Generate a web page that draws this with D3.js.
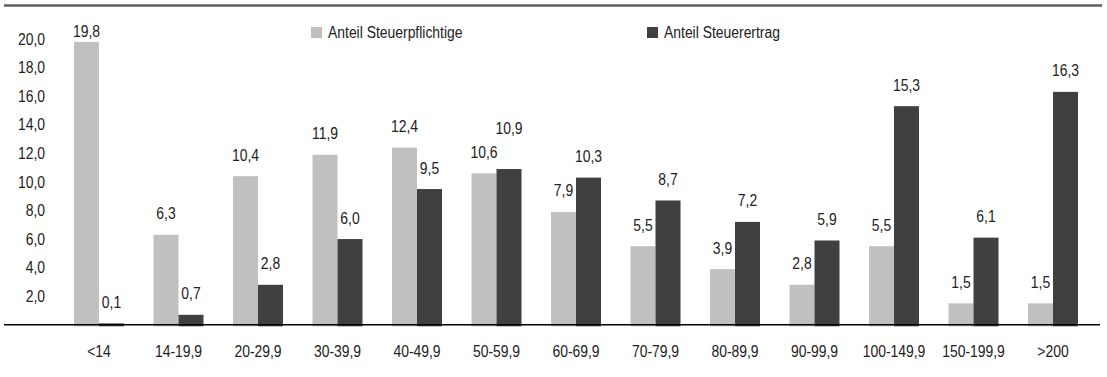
<!DOCTYPE html>
<html lang="de">
<head>
<meta charset="utf-8">
<script src="https://cdn.jsdelivr.net/npm/d3@7"></script>
<style>
  html, body { margin: 0; padding: 0; background: #fff; }
  svg { display: block; }
  text { font-family: "Liberation Sans Narrow", "Liberation Sans", "Arial", sans-serif; fill: #222; font-size: 16px; }
</style>
</head>
<body>
<svg id="chart" width="1107" height="377"></svg>
<script>
// Einkommensklassen (in Tausend)
const categories = ["<14", "14-19,9", "20-29,9", "30-39,9", "40-49,9", "50-59,9", "60-69,9",
                    "70-79,9", "80-89,9", "90-99,9", "100-149,9", "150-199,9", ">200"];
const seriesNames = ["Anteil Steuerpflichtige", "Anteil Steuerertrag"];
// Anteile in Prozent
const steuerpflichtige = [19.8, 6.3, 10.4, 11.9, 12.4, 10.6, 7.9, 5.5, 3.9, 2.8, 5.5, 1.5, 1.5];
const steuerertrag     = [0.1, 0.7, 2.8, 6.0, 9.5, 10.9, 10.3, 8.7, 7.2, 5.9, 15.3, 6.1, 16.3];
const yTicks = [2, 4, 6, 8, 10, 12, 14, 16, 18, 20];

const colors = ["#c0c0c0", "#404040"];
const fmt = v => d3.format(".1f")(v).replace(".", ",");
const narrow = 0.87; // horizontale Stauchung für eine schmale Schrift

const svg = d3.select("#chart");

const x = d3.scaleBand()
  .domain(categories)
  .range([59.25, 1092.75])
  .paddingInner(0.371)
  .paddingOuter(0.1855);

const xs = d3.scaleBand()
  .domain(seriesNames)
  .range([0, x.bandwidth()]);

const y = d3.scaleLinear().domain([0, 20]).range([324.8, 39]);

// Obere Trennlinie
svg.append("line")
  .attr("x1", 4).attr("x2", 1102)
  .attr("y1", 5.5).attr("y2", 5.5)
  .attr("stroke", "#5e5e5e").attr("stroke-width", 2.5);

// Y-Achse (nur Beschriftungen)
svg.append("g")
  .attr("transform", "translate(45,0)")
  .call(d3.axisLeft(y).tickValues(yTicks).tickSize(0).tickPadding(0).tickFormat(fmt))
  .call(g => g.select(".domain").remove())
  .call(g => g.attr("font-family", null).attr("font-size", null))
  .call(g => g.selectAll("text")
      .attr("x", 0)
      .attr("transform", `scale(${narrow},1)`)
      .attr("fill", "#222"));

const rows = categories.map((c, i) => ({
  cat: c,
  values: [
    { s: seriesNames[0], v: steuerpflichtige[i], k: 0 },
    { s: seriesNames[1], v: steuerertrag[i], k: 1 }
  ]
}));

const groups = svg.append("g").selectAll("g")
  .data(rows).join("g")
  .attr("transform", d => `translate(${x(d.cat)},0)`);

groups.selectAll("rect")
  .data(d => d.values).join("rect")
  .attr("x", d => xs(d.s))
  .attr("width", xs.bandwidth())
  .attr("y", d => y(d.v))
  .attr("height", d => y(0) - y(d.v) + 1.5)
  .attr("fill", d => colors[d.k]);

// Wertebeschriftungen über den Balken, oben begrenzt, Überlappungen innerhalb einer Gruppe vermeiden
groups.each(function(d) {
  const pos = d.values.map(p => Math.max(y(p.v) - 15.5, 37));
  if (Math.abs(pos[0] - pos[1]) < 14) {
    const hi = d.values[0].v >= d.values[1].v ? 0 : 1;
    const lo = 1 - hi;
    pos[hi] = pos[lo] - 24;
  }
  d3.select(this).selectAll("text.val")
    .data(d.values).join("text")
    .attr("class", "val")
    .attr("transform", (p, i) =>
      `translate(${xs(p.s) + xs.bandwidth() / 2},${pos[i]}) scale(${narrow},1)`)
    .attr("text-anchor", "middle")
    .text(p => fmt(p.v));
});

// Nulllinie
svg.append("line")
  .attr("x1", 4).attr("x2", 1100)
  .attr("y1", y(0)).attr("y2", y(0))
  .attr("stroke", "#000").attr("stroke-width", 1.5);

// X-Achse
svg.append("g")
  .attr("transform", "translate(0,357)")
  .call(d3.axisBottom(x).tickSize(0).tickPadding(0))
  .call(g => g.select(".domain").remove())
  .call(g => g.attr("font-family", null).attr("font-size", null))
  .call(g => g.selectAll("text")
      .attr("y", 0)
      .attr("dy", 0)
      .attr("transform", `scale(${narrow},1)`)
      .attr("fill", "#222"));

// Legende
const legendX = [311, 647];
const legend = svg.append("g").selectAll("g")
  .data(seriesNames).join("g")
  .attr("transform", (d, i) => `translate(${legendX[i]},27)`);
legend.append("rect")
  .attr("width", 11).attr("height", 11)
  .attr("fill", (d, i) => colors[i]);
legend.append("text")
  .attr("transform", `translate(17,11) scale(${narrow},1)`)
  .text(d => d);
</script>
</body>
</html>
